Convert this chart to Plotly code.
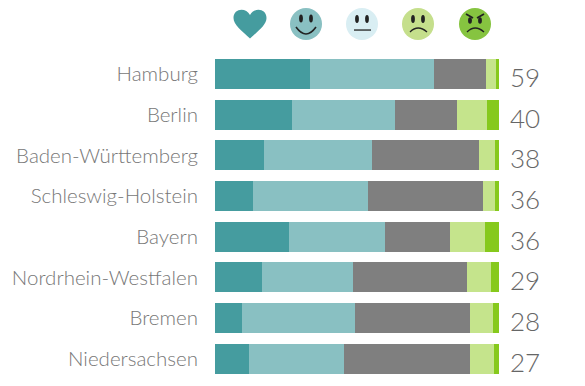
import plotly.graph_objects as go

states = ["Hamburg", "Berlin", "Baden-Württemberg", "Schleswig-Holstein", "Bayern",
          "Nordrhein-Westfalen", "Bremen", "Niedersachsen"]
totals = [59, 40, 38, 36, 36, 29, 28, 27]
love = [33.5, 27.1, 17.3, 13.4, 26.1, 16.5, 9.5, 12.0]
happy = [43.7, 36.3, 38.0, 40.5, 33.8, 32.0, 39.8, 33.5]
neutral = [18.3, 21.8, 37.7, 40.5, 22.9, 40.1, 40.5, 44.4]
sad = [3.5, 10.6, 5.6, 4.2, 12.3, 8.5, 8.1, 8.4]
angry = [1.0, 4.2, 1.4, 1.4, 4.9, 2.9, 2.1, 1.7]
series = [love, happy, neutral, sad, angry]
colors = ["#459c9f", "#89c0c2", "#7f7f7f", "#c5e48c", "#86c91c"]

OFF = 8
W, H = 585 - OFF, 386 - OFF
L, R, T, B = 215, 499, 53, 379.5
FONT = "Lato Light, Lato"


def px(x):
    return (x - L) / (R - L)


def py(y):
    return (B - y) / (B - T)


def path(cmds):
    out = []
    for c, *pts in cmds:
        out.append(c + " " + " ".join(f"{px(pts[i]):.5f},{py(pts[i + 1]):.5f}" for i in range(0, len(pts), 2)))
    return " ".join(out)


def circle(cx, cy, rx, ry, color):
    return dict(type="circle", xref="paper", yref="paper", x0=px(cx - rx), x1=px(cx + rx),
                y0=py(cy + ry), y1=py(cy - ry), fillcolor=color, line_width=0, layer="above")


def stroke(cmds, width=1.4, color="#222222"):
    return dict(type="path", xref="paper", yref="paper", path=path(cmds),
                line=dict(color=color, width=width), layer="above")


shapes = []
# heart
shapes.append(dict(type="path", xref="paper", yref="paper", line_width=0, fillcolor="#459c9f", layer="above",
                   path=path([("M", 250, 38.5), ("C", 242, 31, 233.5, 25, 233.5, 18), ("C", 233.5, 8, 246, 7, 250, 15),
                              ("C", 254, 7, 266.5, 8, 266.5, 18), ("C", 266.5, 25, 258, 31, 250, 38.5), ("Z",)])))
# smile
shapes += [circle(306, 24, 16, 16, "#89c0c2"), circle(301, 18.5, 1.9, 4, "#222222"), circle(311, 18.5, 1.9, 4, "#222222"),
           stroke([("M", 296, 27), ("Q", 306, 41, 316, 27)], 1.6)]
# neutral
shapes += [circle(362, 24, 16, 16, "#d9eef3"), circle(357, 19, 1.9, 4, "#222222"), circle(367, 19, 1.9, 4, "#222222"),
           stroke([("M", 354, 30), ("L", 371, 30)], 1.3)]
# sad
shapes += [circle(418, 24, 16, 16, "#c5df8c"), circle(413, 19, 1.9, 4, "#222222"), circle(423, 19, 1.9, 4, "#222222"),
           stroke([("M", 410, 32), ("Q", 418, 24, 427, 32)], 1.3)]
# angry
shapes += [circle(475, 24, 16, 16, "#86c440"), circle(470, 20.5, 1.9, 3.2, "#222222"), circle(480, 20.5, 1.9, 3.2, "#222222"),
           stroke([("M", 466, 14), ("L", 473, 18)], 1.8), stroke([("M", 484, 14), ("L", 477, 18)], 1.8),
           stroke([("M", 467, 32), ("Q", 475, 24, 484, 32)], 1.4)]

fig = go.Figure()
for vals, col in zip(series, colors):
    fig.add_trace(go.Bar(y=states, x=vals, orientation="h", marker=dict(color=col, line_width=0), showlegend=False))

annotations = [dict(x=1, y=s, xref="paper", yref="y", text=str(t), showarrow=False, xanchor="left", xshift=9,
                    yshift=-3, font=dict(family=FONT, size=26, color="#666666", weight=300))
               for s, t in zip(states, totals)]

fig.update_layout(
    width=W, height=H, barmode="stack", barnorm="percent", bargap=0.26,
    margin=dict(l=L - OFF, r=585 - R, t=T - OFF, b=386 - B, pad=0), paper_bgcolor="white", plot_bgcolor="white",
    xaxis=dict(visible=False, range=[0, 100]),
    yaxis=dict(autorange="reversed", automargin=False, showgrid=False, zeroline=False, showline=False, ticks="",
               ticklabelstandoff=16, tickfont=dict(family=FONT, size=20.5, color="#777777", weight=300)),
    shapes=shapes, annotations=annotations,
)
fig.write_html("out.html", config=dict(displayModeBar=False))
